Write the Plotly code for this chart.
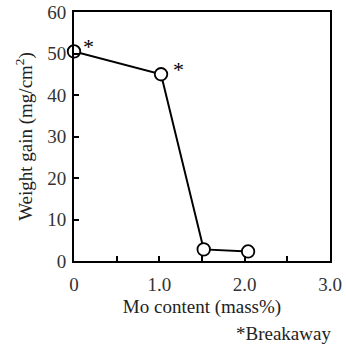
import plotly.graph_objects as go

mo_content = [0.0, 1.02, 1.52, 2.04]
weight_gain = [50.5, 45.0, 2.8, 2.3]
breakaway_x = [0.0, 1.02]
breakaway_y = [50.5, 45.0]
x_ticks = [0, 0.5, 1.0, 1.5, 2.0, 2.5, 3.0]
x_tick_labels = ["0", "", "1.0", "", "2.0", "", "3.0"]
y_ticks = [0, 10, 20, 30, 40, 50, 60]

font = "Liberation Serif, Times New Roman, serif"
fs = 19

fig = go.Figure()
fig.add_trace(go.Scatter(
    x=mo_content, y=weight_gain, mode="lines+markers",
    line=dict(color="black", width=2),
    marker=dict(size=12.5, color="white", line=dict(color="black", width=1.8)),
    cliponaxis=False, showlegend=False))

for bx, by, dx in zip(breakaway_x, breakaway_y, [14, 17]):
    fig.add_annotation(x=bx, y=by, text="*", showarrow=False,
                       xshift=dx, yshift=5, font=dict(family=font, size=22, color="black"))

fig.add_annotation(x=1, y=0, xref="paper", yref="paper", yanchor="middle", xanchor="right",
                   text="*Breakaway", showarrow=False, yshift=-72, xshift=3,
                   font=dict(family=font, size=fs, color="#222"))

fig.update_xaxes(range=[0, 3.0], tickvals=x_ticks, ticktext=x_tick_labels,
                 ticks="inside", ticklen=5, tickwidth=1.5, tickcolor="black",
                 showline=True, linecolor="black", linewidth=2, mirror=True,
                 showgrid=False, zeroline=False, automargin=False,
                 tickfont=dict(family=font, size=fs, color="#333"), ticklabelstandoff=5,
                 title=dict(text="Mo content (mass%)", font=dict(family=font, size=fs, color="#222"), standoff=6))
fig.update_yaxes(range=[0, 60], tickvals=y_ticks,
                 ticks="inside", ticklen=5, tickwidth=1.5, tickcolor="black",
                 showline=True, linecolor="black", linewidth=2, mirror=True,
                 showgrid=False, zeroline=False, automargin=False,
                 tickfont=dict(family=font, size=fs, color="#333"), ticklabelstandoff=2,
                 title=dict(text="Weight gain (mg/cm<sup>2</sup>)", font=dict(family=font, size=fs, color="#222"), standoff=10))

fig.update_layout(width=346, height=347, margin=dict(l=74, r=16, t=12, b=86),
                  plot_bgcolor="white", paper_bgcolor="white")
fig.write_html("out.html", config={"displayModeBar": False},
               post_script="document.body.style.margin='0';document.body.style.overflow='hidden';")
